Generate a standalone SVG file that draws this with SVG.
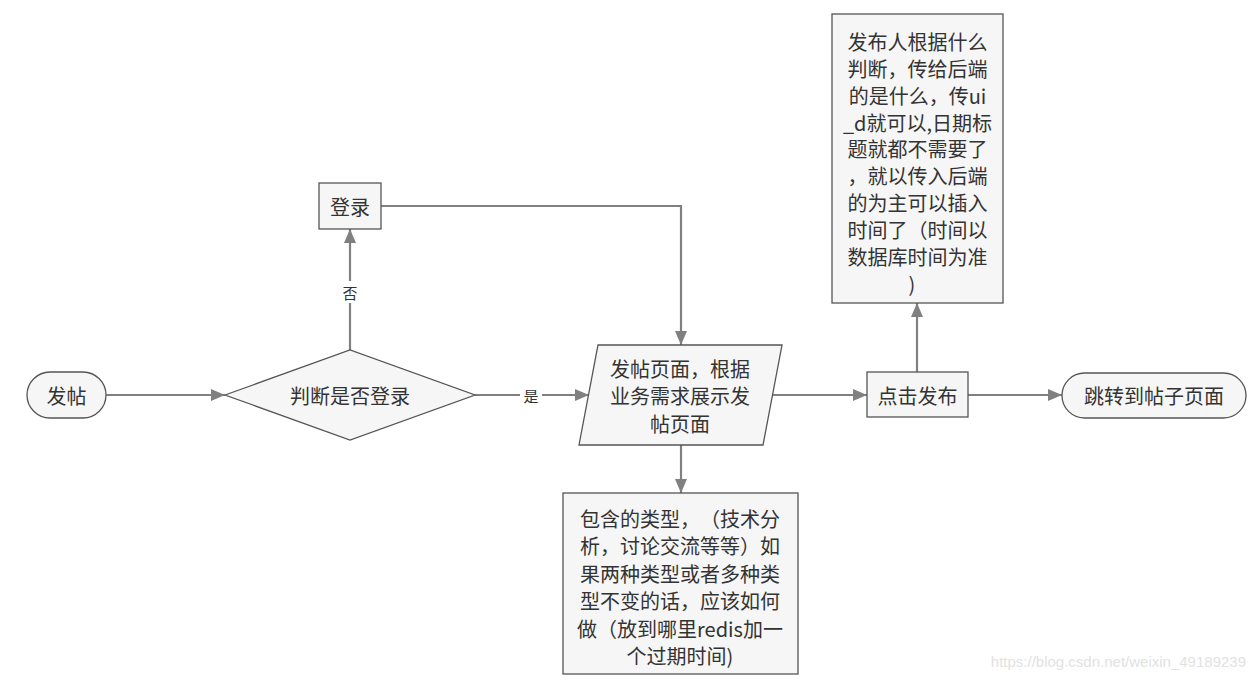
<svg xmlns="http://www.w3.org/2000/svg" width="1255" height="687" viewBox="0 0 1255 687">
<defs>
<marker id="arr" viewBox="0 0 14 12" refX="14" refY="6" markerWidth="14" markerHeight="12" markerUnits="userSpaceOnUse" orient="auto">
<path d="M0,0 L14,6 L0,12 z" fill="#808080"/>
</marker>
</defs>
<style>
.shape{fill:#f6f6f6;stroke:#555;stroke-width:1.3}
.t{font-family:"Noto Sans CJK SC","Microsoft YaHei",sans-serif;font-size:20px;fill:#333;text-anchor:middle;dominant-baseline:central;text-spacing-trim:space-all}
.lbl{font-family:"Noto Sans CJK SC",sans-serif;font-size:15px;fill:#333;text-anchor:middle;dominant-baseline:central}
.c{fill:none;stroke:#808080;stroke-width:2.2}
</style>
<rect width="1255" height="687" fill="#ffffff"/>
<g id="connectors">
<path class="c" d="M106,395 L225,395" marker-end="url(#arr)"/>
<path class="c" d="M350,350 L350,229" marker-end="url(#arr)"/>
<path class="c" d="M381,206 L681,206 L681,345" marker-end="url(#arr)"/>
<path class="c" d="M475,395 L589,395" marker-end="url(#arr)"/>
<path class="c" d="M773,395 L867,395" marker-end="url(#arr)"/>
<path class="c" d="M968,395 L1062,395" marker-end="url(#arr)"/>
<path class="c" d="M917,372 L917,303" marker-end="url(#arr)"/>
<path class="c" d="M681,445 L681,493" marker-end="url(#arr)"/>
<rect x="340" y="281" width="20" height="22" fill="#ffffff"/>
<text class="lbl" x="350" y="292">否</text>
<rect x="520" y="385" width="22" height="20" fill="#ffffff"/>
<text class="lbl" x="531" y="395">是</text>
</g>
<g id="start">
<rect class="shape" x="27" y="372" width="79" height="46" rx="23" ry="23"/>
<text class="t" x="66.5" y="395">发帖</text>
</g>
<g id="decision">
<polygon class="shape" points="225,395 350,350 475,395 350,440"/>
<text class="t" x="350" y="395">判断是否登录</text>
</g>
<g id="login">
<rect class="shape" x="319" y="183" width="62" height="46"/>
<text class="t" x="350" y="206">登录</text>
</g>
<g id="postpage">
<polygon class="shape" points="598,345 782,345 763,445 579,445"/>
<text class="t" x="680" y="368">发帖页面，根据</text>
<text class="t" x="680" y="395.5">业务需求展示发</text>
<text class="t" x="680" y="423">帖页面</text>
</g>
<g id="types">
<rect class="shape" x="563" y="493" width="235" height="181"/>
<text class="t" x="680" y="518">包含的类型，（技术分</text>
<text class="t" x="680" y="545.5">析，讨论交流等等）如</text>
<text class="t" x="680" y="573">果两种类型或者多种类</text>
<text class="t" x="680" y="600.5">型不变的话，应该如何</text>
<text class="t" x="680" y="628">做（放到哪里redis加一</text>
<text class="t" x="680" y="655">个过期时间)</text>
</g>
<g id="publish">
<rect class="shape" x="867" y="372" width="101" height="45"/>
<text class="t" x="917.5" y="395">点击发布</text>
</g>
<g id="jump">
<rect class="shape" x="1062" y="373" width="184" height="45" rx="22.5" ry="22.5"/>
<text class="t" x="1154" y="395.5">跳转到帖子页面</text>
</g>
<g id="note">
<rect class="shape" x="832" y="14" width="171" height="289"/>
<text class="t" x="917.5" y="41">发布人根据什么</text>
<text class="t" x="917.5" y="68">判断，传给后端</text>
<text class="t" x="917.5" y="95">的是什么，传ui</text>
<text class="t" x="917.5" y="122">_d就可以,日期标</text>
<text class="t" x="917.5" y="148.5">题就都不需要了</text>
<text class="t" x="917.5" y="175.5">，就以传入后端</text>
<text class="t" x="917.5" y="202.5">的为主可以插入</text>
<text class="t" x="917.5" y="229.5">时间了（时间以</text>
<text class="t" x="917.5" y="256">数据库时间为准</text>
<text class="t" x="912" y="283">)</text>
</g>
<text x="1246" y="667" font-family="Liberation Sans, Arial, sans-serif" font-size="15" fill="#e2e2e2" text-anchor="end">https://blog.csdn.net/weixin_49189239</text>
</svg>
